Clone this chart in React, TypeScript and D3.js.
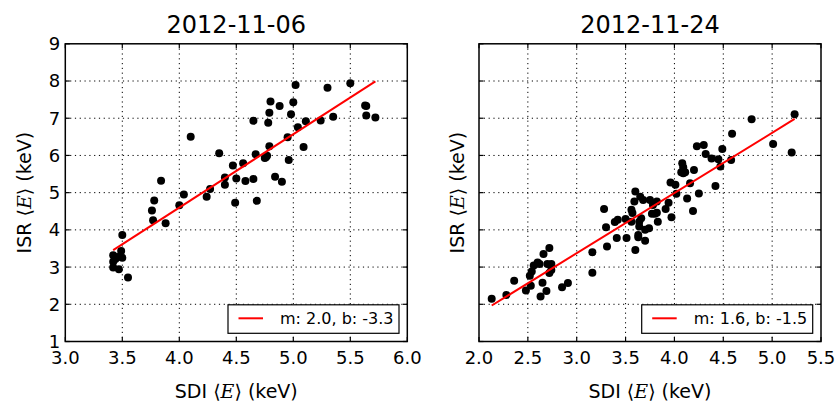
import React from 'react';
import * as d3 from 'd3';

// ---- data ----
const leftTitle = '2012-11-06';
const rightTitle = '2012-11-24';

const leftSDI = [3.42, 3.42, 3.42, 3.44, 3.46, 3.47, 3.49, 3.50, 3.50, 3.55,
  3.76, 3.77, 3.78, 3.84, 3.88, 4.00, 4.04, 4.10, 4.24, 4.27,
  4.35, 4.40, 4.40, 4.47, 4.49, 4.50, 4.56, 4.58, 4.65, 4.65,
  4.67, 4.68, 4.75, 4.77, 4.76, 4.78, 4.79, 4.79, 4.80, 4.84,
  4.88, 4.90, 4.95, 4.96, 4.98, 5.00, 5.02, 5.04, 5.09, 5.11,
  5.24, 5.30, 5.35, 5.50, 5.63, 5.64, 5.64, 5.72];
const leftISR = [3.32, 3.14, 2.99, 3.22, 3.27, 2.94, 3.43, 3.25, 3.86, 2.72,
  4.52, 4.26, 4.79, 5.32, 4.18, 4.66, 4.95, 6.50, 4.89, 5.10,
  6.06, 5.41, 5.21, 5.73, 4.73, 5.38, 5.79, 5.31, 5.37, 6.93,
  6.03, 4.78, 5.93, 5.99, 5.95, 6.88, 7.15, 6.25, 7.45, 5.43,
  7.33, 5.29, 6.49, 5.88, 7.11, 7.43, 7.89, 6.76, 6.23, 6.92,
  6.94, 7.82, 7.04, 7.94, 7.34, 7.33, 7.07, 7.02];
const leftFit = { m: 1.97, b: -3.28, label: 'm: 2.0, b: -3.3' };

const rightSDI = [2.13, 2.28, 2.36, 2.48, 2.53, 2.52, 2.54, 2.56, 2.60, 2.62,
  2.65, 2.63, 2.69, 2.66, 2.72, 2.70, 2.74, 2.72, 2.74, 2.85,
  2.91, 3.16, 3.16, 3.28, 3.30, 3.31, 3.39, 3.42, 3.41, 3.50,
  3.51, 3.56, 3.57, 3.56, 3.59, 3.60, 3.60, 3.63, 3.64, 3.64,
  3.65, 3.66, 3.63, 3.68, 3.70, 3.70, 3.74, 3.75, 3.77, 3.80,
  3.82, 3.78, 3.82, 3.83, 3.91, 3.94, 3.97, 3.96, 4.01, 4.02,
  4.08, 4.07, 4.09, 4.11, 4.09, 4.13, 4.16, 4.20, 4.19, 4.23,
  4.25, 4.30, 4.32, 4.38, 4.42, 4.45, 4.47, 4.49, 4.58, 4.59,
  4.79, 5.01, 5.20, 5.23];
const rightISR = [2.15, 2.25, 2.63, 2.37, 2.50, 2.77, 2.88, 3.04, 3.12, 3.08,
  2.58, 2.21, 2.36, 3.35, 3.51, 3.08, 3.08, 2.84, 2.92, 2.46,
  2.57, 3.40, 2.85, 4.56, 4.07, 3.55, 4.21, 4.27, 3.78, 4.29,
  3.78, 4.54, 4.45, 4.22, 4.76, 5.03, 3.46, 3.86, 4.09, 4.22,
  4.89, 4.31, 3.80, 4.80, 3.71, 4.00, 4.04, 4.80, 4.43, 4.43,
  4.46, 4.67, 4.76, 4.22, 4.56, 4.73, 4.34, 5.27, 5.21, 4.97,
  5.79, 5.55, 5.52, 5.55, 5.68, 4.84, 5.25, 5.61, 4.51, 6.25,
  4.98, 6.28, 6.04, 5.92, 5.18, 5.90, 5.70, 6.17, 5.88, 6.58,
  6.97, 6.31, 6.08, 7.11];
const rightFit = { m: 1.617, b: -1.477, label: 'm: 1.6, b: -1.5' };

const leftXTicks = [3.0, 3.5, 4.0, 4.5, 5.0, 5.5, 6.0];
const rightXTicks = [2.0, 2.5, 3.0, 3.5, 4.0, 4.5, 5.0, 5.5];
const yTicks = [1, 2, 3, 4, 5, 6, 7, 8, 9];

const FONT = 'DejaVu Sans, sans-serif';

type PanelProps = {
  left: number; right: number; top: number; bottom: number;
  xTicks: number[]; xs: number[]; ys: number[];
  fit: { m: number; b: number; label: string };
  title: string; showYLabels: boolean; yLabelX: number;
};

function MathLabel({ prefix }: { prefix: string }) {
  return (
    <>
      {prefix + ' '}
      <tspan fontFamily="DejaVu Serif, serif">⟨</tspan>
      <tspan fontFamily="DejaVu Serif, serif" fontStyle="italic">E</tspan>
      <tspan fontFamily="DejaVu Serif, serif">⟩</tspan>
      {' (keV)'}
    </>
  );
}

function Panel(p: PanelProps) {
  const x = d3.scaleLinear().domain([p.xTicks[0], p.xTicks[p.xTicks.length - 1]]).range([p.left, p.right]);
  const y = d3.scaleLinear().domain([yTicks[0], yTicks[yTicks.length - 1]]).range([p.bottom, p.top]);
  const fmt = d3.format('.1f');
  const xMin = d3.min(p.xs) as number;
  const xMax = d3.max(p.xs) as number;
  const line = d3.line<number>().x((d) => x(d)).y((d) => y(p.fit.m * d + p.fit.b));
  const tl = 4.5;
  const cx = (p.left + p.right) / 2;
  const cy = (p.top + p.bottom) / 2;
  const legW = 171, legH = 28.5;
  const legX = p.right - 8.3 - legW;
  const legY = p.bottom - 8.2 - legH;
  return (
    <g>
      {/* grid */}
      {p.xTicks.slice(1, -1).map((t) => (
        <line key={'gx' + t} x1={x(t)} x2={x(t)} y1={p.top} y2={p.bottom}
          stroke="#000" strokeWidth={1} strokeDasharray="1.2,3.6" />
      ))}
      {yTicks.slice(1, -1).map((t) => (
        <line key={'gy' + t} x1={p.left} x2={p.right} y1={y(t)} y2={y(t)}
          stroke="#000" strokeWidth={1} strokeDasharray="1.2,3.6" />
      ))}
      {/* points */}
      {p.xs.map((v, i) => (
        <circle key={'pt' + i} cx={x(v)} cy={y(p.ys[i])} r={4} fill="#000" />
      ))}
      {/* fit line */}
      <path d={line([xMin, xMax]) || ''} fill="none" stroke="#ff0000" strokeWidth={2} />
      {/* ticks */}
      {p.xTicks.map((t) => (
        <g key={'tx' + t}>
          <line x1={x(t)} x2={x(t)} y1={p.bottom} y2={p.bottom - tl} stroke="#000" strokeWidth={1.2} />
          <line x1={x(t)} x2={x(t)} y1={p.top} y2={p.top + tl} stroke="#000" strokeWidth={1.2} />
          <text x={x(t)} y={364} textAnchor="middle" fontSize={18} fontFamily={FONT}>{fmt(t)}</text>
        </g>
      ))}
      {yTicks.map((t) => (
        <g key={'ty' + t}>
          <line x1={p.left} x2={p.left + tl} y1={y(t)} y2={y(t)} stroke="#000" strokeWidth={1.2} />
          <line x1={p.right} x2={p.right - tl} y1={y(t)} y2={y(t)} stroke="#000" strokeWidth={1.2} />
          {p.showYLabels && (
            <text x={p.left - 5} y={y(t)} dy="0.36em" textAnchor="end" fontSize={18} fontFamily={FONT}>{t}</text>
          )}
        </g>
      ))}
      {/* frame */}
      <rect x={p.left} y={p.top} width={p.right - p.left} height={p.bottom - p.top}
        fill="none" stroke="#000" strokeWidth={1.5} />
      {/* legend */}
      <rect x={legX} y={legY} width={legW} height={legH} fill="#fff" stroke="#000" strokeWidth={1.2} />
      <line x1={legX + 10.5} x2={legX + 35} y1={legY + 13.5} y2={legY + 13.5} stroke="#ff0000" strokeWidth={2} />
      <text x={legX + 52} y={legY + 19} fontSize={16} fontFamily={FONT}>{p.fit.label}</text>
      {/* title */}
      <text x={cx} y={33.3} textAnchor="middle" fontSize={24} fontFamily={FONT}>{p.title}</text>
      {/* axis labels */}
      <text x={cx} y={398} textAnchor="middle" fontSize={19} fontFamily={FONT}>
        <MathLabel prefix="SDI" />
      </text>
      <text transform={`translate(${p.yLabelX},${cy}) rotate(-90)`} textAnchor="middle" dy="0.36em"
        fontSize={19} fontFamily={FONT}>
        <MathLabel prefix="ISR" />
      </text>
    </g>
  );
}

export default function App() {
  return (
    <svg width={840} height={402} viewBox="0 0 840 402"
      style={{ position: 'absolute', left: 0, top: 0, background: '#fff' }}>
      <rect x={0} y={0} width={840} height={402} fill="#fff" />
      <Panel left={65.3} right={407.3} top={43.8} bottom={341.5} xTicks={leftXTicks}
        xs={leftSDI} ys={leftISR} fit={leftFit} title={leftTitle} showYLabels={true} yLabelX={24} />
      <Panel left={479} right={821} top={43.8} bottom={341.5} xTicks={rightXTicks}
        xs={rightSDI} ys={rightISR} fit={rightFit} title={rightTitle} showYLabels={false} yLabelX={457} />
    </svg>
  );
}
